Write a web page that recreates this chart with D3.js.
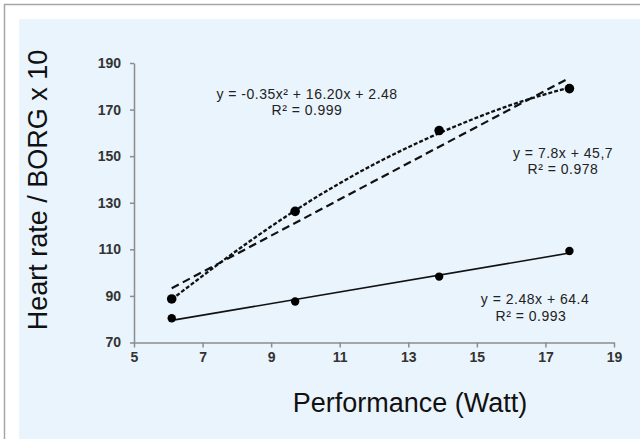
<!DOCTYPE html>
<html>
<head>
<meta charset="utf-8">
<script src="https://cdn.jsdelivr.net/npm/d3@7"></script>
<style>
    html, body { margin: 0; padding: 0; background: #ffffff; }
    svg { display: block; font-family: "Liberation Sans", Arial, sans-serif; }
</style>
</head>
<body>
<svg width="640" height="439"></svg>
<script>
// Measured points (Watt on x)
const performance = [6.1, 9.7, 13.9, 17.7];
const heartRate = [80.4, 87.6, 98.3, 109.3];
const borg = [88.7, 126.3, 161.0, 179.0];

// Trend lines
const trendX = [6.1, 17.7];
const heartTrend = [79.5, 108.4];
const borgLinearTrend = [93.3, 183.6];
const borgCurveX = [6.1, 8, 10, 12, 14, 16, 17.7];
const borgCurveY = [88.5, 109.5, 129.5, 146.5, 160.5, 172.0, 179.5];

const xTicks = [5, 7, 9, 11, 13, 15, 17, 19];
const yTicks = [70, 90, 110, 130, 150, 170, 190];

const equations = ["y = -0.35x² + 16.20x + 2.48", "y = 7.8x + 45,7", "y = 2.48x + 64.4"];
const rSquared = ["R² = 0.999", "R² = 0.978", "R² = 0.993"];

let svg = d3.select("svg"),
    width = +svg.attr("width"),
    height = +svg.attr("height");

// frame + light blue panel
svg.append("rect")
    .attr("x", 4.5).attr("y", 4.5)
    .attr("width", width).attr("height", height)
    .attr("fill", "#ffffff")
    .attr("stroke", "#a6a6a6")
    .attr("stroke-width", 1.5);
svg.append("rect")
    .attr("x", 19).attr("y", 19)
    .attr("width", width - 19).attr("height", height - 19)
    .attr("fill", "#eaf4fc");

let x = d3.scaleLinear().domain([5, 19]).range([134, 614]);
let y = d3.scaleLinear().domain([70, 190]).range([342.5, 63]);

let xAxis = svg.append("g")
    .attr("transform", "translate(0," + y(70) + ")")
    .call(d3.axisBottom(x).tickValues(xTicks).tickSize(5).tickPadding(5).tickSizeOuter(0));
let yAxis = svg.append("g")
    .attr("transform", "translate(" + x(5) + ",0)")
    .call(d3.axisLeft(y).tickValues(yTicks).tickSize(4).tickPadding(9).tickSizeOuter(0));

[xAxis, yAxis].forEach(function (axis) {
    axis.selectAll("path, line").attr("stroke", "#8c8c8c").attr("stroke-width", 1.5);
    axis.selectAll("text")
        .attr("fill", "#333")
        .style("font-size", "14px")
        .style("font-weight", "bold")
        .style("font-family", "'Liberation Sans', Arial, sans-serif");
});

function pairs(xs, ys) {
    let out = [];
    for (let i = 0; i < xs.length; i++) {
        out.push([xs[i], ys[i]]);
    }
    return out;
}

let line = d3.line()
    .x(function (d) { return x(d[0]); })
    .y(function (d) { return y(d[1]); });

// linear trend of the lower series
svg.append("path")
    .attr("d", line(pairs(trendX, heartTrend)))
    .attr("fill", "none")
    .attr("stroke", "#111")
    .attr("stroke-width", 1.6);

// linear trend of the upper series (long dashes)
svg.append("path")
    .attr("d", line(pairs(trendX, borgLinearTrend)))
    .attr("fill", "none")
    .attr("stroke", "#111")
    .attr("stroke-width", 2.2)
    .attr("stroke-dasharray", "8,4.5");

// polynomial trend (short dashes)
svg.append("path")
    .attr("d", line.curve(d3.curveNatural)(pairs(borgCurveX, borgCurveY)))
    .attr("fill", "none")
    .attr("stroke", "#111")
    .attr("stroke-width", 2.3)
    .attr("stroke-dasharray", "4,2");

svg.append("g")
    .selectAll("circle")
    .data(pairs(performance, heartRate))
    .enter()
    .append("circle")
    .attr("cx", function (d) { return x(d[0]); })
    .attr("cy", function (d) { return y(d[1]); })
    .attr("r", 4.2)
    .attr("fill", "#000");

svg.append("g")
    .selectAll("circle")
    .data(pairs(performance, borg))
    .enter()
    .append("circle")
    .attr("cx", function (d) { return x(d[0]); })
    .attr("cy", function (d) { return y(d[1]); })
    .attr("r", 4.8)
    .attr("fill", "#000");

// equation labels: [centre x, baseline of equation, centre x of R², baseline of R²]
const labelSpots = [[307, 98.5, 307, 115], [563, 157.5, 563, 174], [535, 304, 531, 320.5]];
for (let i = 0; i < equations.length; i++) {
    svg.append("text")
        .attr("x", labelSpots[i][0]).attr("y", labelSpots[i][1])
        .attr("text-anchor", "middle")
        .attr("fill", "#222")
        .style("font-size", "14px")
        .style("letter-spacing", "0.5px")
        .text(equations[i]);
    svg.append("text")
        .attr("x", labelSpots[i][2]).attr("y", labelSpots[i][3])
        .attr("text-anchor", "middle")
        .attr("fill", "#222")
        .style("font-size", "14px")
        .style("letter-spacing", "0.5px")
        .text(rSquared[i]);
}

svg.append("text")
    .attr("x", 410).attr("y", 412)
    .attr("text-anchor", "middle")
    .attr("fill", "#111")
    .style("font-size", "27px")
    .text("Performance (Watt)");

svg.append("text")
    .attr("transform", "translate(47,190) rotate(-90)")
    .attr("text-anchor", "middle")
    .attr("fill", "#111")
    .style("font-size", "27px")
    .text("Heart rate / BORG x 10");
</script>
</body>
</html>
